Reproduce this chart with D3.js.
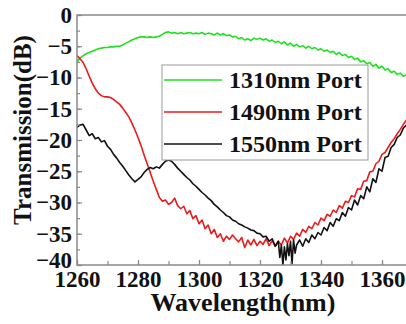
<!DOCTYPE html>
<html>
<head>
<meta charset="utf-8">
<script src="https://cdn.jsdelivr.net/npm/d3@7"></script>
<style>
  body { margin: 0; background: #fff; }
</style>
</head>
<body>
<div id="chart"></div>
<script>
// tick labels
var xTicks = [1260, 1280, 1300, 1320, 1340, 1360];
var yTicks = [0, -5, -10, -15, -20, -25, -30, -35, -40];

// legend names
var seriesNames = ["1310nm Port", "1490nm Port", "1550nm Port"];
var seriesColors = ["#1fe01f", "#e81c1c", "#111111"];

// 1310nm port [wavelength, dB]
var port1310 = [
  [1260,-7.5],[1261,-6.9],[1262,-6.5],[1263,-6.2],[1264,-6.0],[1265,-5.8],[1266,-5.6],[1267,-5.4],
  [1268,-5.3],[1269,-5.2],[1270,-5.2],[1271,-5.1],[1272,-5.1],[1273,-5.0],[1274,-5.0],[1275,-4.8],
  [1276,-4.5],[1277,-4.3],[1278,-4.0],[1279,-3.8],[1280,-3.6],[1281,-3.5],[1282,-3.5],[1283,-3.6],
  [1284,-3.5],[1285,-3.6],[1286,-3.5],[1287,-3.4],[1288,-3.1],[1289,-2.8],[1290,-2.7],[1291,-2.9],
  [1292,-2.8],[1293,-3.0],[1294,-2.8],[1295,-3.0],[1296,-2.9],[1297,-2.8],[1298,-3.0],[1299,-2.9],
  [1300,-3.0],[1301,-2.8],[1302,-3.1],[1303,-2.9],[1304,-3.0],[1305,-3.2],[1306,-2.9],[1307,-3.2],
  [1308,-3.0],[1309,-3.3],[1310,-3.2],[1311,-3.5],[1312,-3.4],[1313,-3.8],[1314,-3.6],[1315,-4.0],
  [1316,-3.8],[1317,-4.1],[1318,-3.7],[1319,-3.9],[1320,-3.7],[1321,-4.0],[1322,-3.8],[1323,-4.2],
  [1324,-4.0],[1325,-4.4],[1326,-4.2],[1327,-4.6],[1328,-4.3],[1329,-4.8],[1330,-4.5],[1331,-5.0],
  [1332,-4.7],[1333,-5.1],[1334,-4.9],[1335,-5.3],[1336,-5.0],[1337,-5.4],[1338,-5.2],[1339,-5.6],
  [1340,-5.4],[1341,-5.8],[1342,-5.6],[1343,-6.0],[1344,-5.8],[1345,-6.3],[1346,-6.0],[1347,-6.5],
  [1348,-6.3],[1349,-6.8],[1350,-6.6],[1351,-7.1],[1352,-6.9],[1353,-7.5],[1354,-7.3],[1355,-7.8],
  [1356,-7.6],[1357,-8.2],[1358,-7.9],[1359,-8.5],[1360,-8.2],[1361,-8.8],[1362,-8.6],[1363,-9.2],
  [1364,-9.0],[1365,-9.5],[1366,-9.3],[1367,-9.8],[1368,-9.6],[1369,-10.0],[1370,-9.9]
];

// 1490nm port
var port1490 = [
  [1260,-6.5],[1261,-7.0],[1262,-7.6],[1263,-8.6],[1264,-9.8],[1265,-10.9],[1266,-11.8],[1267,-12.5],
  [1268,-12.9],[1269,-13.1],[1270,-13.1],[1271,-13.2],[1272,-13.5],[1273,-13.9],[1274,-14.3],[1275,-14.9],
  [1276,-15.6],[1277,-16.3],[1278,-17.3],[1279,-18.4],[1280,-19.6],[1281,-20.9],[1282,-22.4],[1283,-23.8],
  [1284,-25.2],[1285,-26.6],[1286,-27.9],[1287,-29.2],[1288,-29.8],[1289,-29.6],[1290,-30.3],[1291,-30.0],
  [1292,-29.3],[1293,-30.5],[1294,-31.0],[1295,-30.6],[1296,-31.8],[1297,-31.3],[1298,-32.6],[1299,-32.1],
  [1300,-33.4],[1301,-32.8],[1302,-34.2],[1303,-33.6],[1304,-35.0],[1305,-34.3],[1306,-35.6],[1307,-35.0],
  [1308,-36.2],[1309,-35.4],[1310,-35.9],[1311,-35.2],[1312,-35.8],[1313,-36.3],[1314,-35.6],[1315,-37.2],
  [1316,-36.0],[1317,-36.8],[1318,-35.9],[1319,-36.9],[1320,-36.2],[1321,-36.7],[1322,-35.8],[1323,-36.9],
  [1324,-36.1],[1325,-37.0],[1326,-36.2],[1327,-36.8],[1328,-35.7],[1329,-36.5],[1330,-35.4],[1331,-35.9],
  [1332,-34.9],[1333,-35.4],[1334,-34.3],[1335,-34.8],[1336,-33.8],[1337,-34.2],[1338,-33.2],[1339,-33.6],
  [1340,-32.5],[1341,-32.9],[1342,-31.9],[1343,-32.2],[1344,-31.2],[1345,-31.6],[1346,-30.5],[1347,-30.9],
  [1348,-29.8],[1349,-30.0],[1350,-28.9],[1351,-29.1],[1352,-27.8],[1353,-27.9],[1354,-26.6],[1355,-26.5],
  [1356,-25.1],[1357,-25.0],[1358,-23.8],[1359,-23.4],[1360,-22.3],[1361,-22.0],[1362,-21.2],[1363,-20.4],
  [1364,-19.8],[1365,-19.0],[1366,-18.3],[1367,-17.5],[1368,-16.8],[1369,-16.2],[1370,-15.5]
];

// 1550nm port
var port1550 = [
  [1260,-18.0],[1261,-17.6],[1262,-17.5],[1263,-18.4],[1264,-19.3],[1265,-19.0],[1266,-19.8],[1267,-19.6],
  [1268,-20.3],[1269,-20.1],[1270,-21.0],[1271,-21.5],[1272,-22.3],[1273,-22.9],[1274,-23.6],[1275,-24.2],
  [1276,-24.9],[1277,-25.6],[1278,-26.2],[1279,-26.7],[1280,-26.3],[1281,-25.9],[1282,-25.2],[1283,-24.7],
  [1284,-24.4],[1285,-24.6],[1286,-24.3],[1287,-24.5],[1288,-23.9],[1289,-23.4],[1290,-23.2],[1291,-23.4],
  [1292,-23.9],[1293,-24.5],[1294,-25.0],[1295,-25.5],[1296,-26.0],[1297,-26.4],[1298,-27.0],[1299,-27.4],
  [1300,-27.9],[1301,-28.4],[1302,-28.8],[1303,-29.3],[1304,-29.7],[1305,-30.3],[1306,-30.7],[1307,-31.2],
  [1308,-31.6],[1309,-32.1],[1310,-32.3],[1311,-32.8],[1312,-33.0],[1313,-33.4],[1314,-33.6],[1315,-33.9],
  [1316,-34.1],[1317,-34.4],[1318,-34.5],[1319,-34.9],[1320,-35.0],[1321,-35.5],[1322,-35.4],[1323,-36.2],
  [1324,-35.8],[1325,-37.0],[1326,-36.2],[1326.5,-38.8],[1327,-36.8],[1327.5,-40.0],[1328,-37.1],[1328.5,-39.2],
  [1329,-36.6],[1329.5,-38.5],[1330,-36.2],[1330.5,-39.8],[1331,-36.0],[1331.5,-38.1],[1332,-36.8],[1333,-36.0],
  [1334,-37.0],[1335,-35.8],[1336,-36.4],[1337,-35.2],[1338,-35.8],[1339,-34.8],[1340,-35.2],[1341,-34.0],
  [1342,-34.5],[1343,-33.2],[1344,-33.8],[1345,-32.6],[1346,-32.9],[1347,-31.6],[1348,-32.2],[1349,-30.8],
  [1350,-31.2],[1351,-29.6],[1352,-30.4],[1353,-28.9],[1354,-29.4],[1355,-27.5],[1356,-28.3],[1357,-26.2],
  [1358,-26.8],[1359,-24.6],[1360,-25.0],[1361,-22.8],[1362,-22.6],[1363,-21.2],[1364,-20.7],[1365,-19.6],
  [1366,-19.2],[1367,-18.1],[1368,-17.6],[1369,-16.6],[1370,-16.0]
];

var series = [port1310, port1490, port1550];

var FONT = "'Liberation Serif', 'Times New Roman', serif";
var W = 406, H = 324;
var plotL = 77, plotT = 15, plotB = 265, plotR = 412.5;

var svg = d3.select("#chart").append("svg")
  .attr("width", W)
  .attr("height", H);

var x = d3.scaleLinear().domain([1260, 1370]).range([plotL, plotR]);
var y = d3.scaleLinear().domain([-40, 0]).range([plotB, plotT]);

svg.append("clipPath").attr("id", "clip")
  .append("rect")
    .attr("x", plotL).attr("y", plotT)
    .attr("width", plotR - plotL).attr("height", plotB - plotT);

// curves
var line = d3.line()
  .x(function (d) { return x(d[0]); })
  .y(function (d) { return y(d[1]); });

var curves = svg.append("g").attr("clip-path", "url(#clip)");
series.forEach(function (s, i) {
  curves.append("path")
    .datum(s)
    .attr("fill", "none")
    .attr("stroke", seriesColors[i])
    .attr("stroke-width", 1.6)
    .attr("stroke-linejoin", "round")
    .attr("d", line);
});

// frame
svg.append("rect")
  .attr("x", plotL).attr("y", plotT)
  .attr("width", plotR - plotL).attr("height", plotB - plotT)
  .attr("fill", "none")
  .attr("stroke", "#8a8a8a")
  .attr("stroke-width", 1.5);

// axes, ticks pointing inward
var xMinor = d3.range(1260, 1371, 10);
var yMinor = d3.range(-40, 0.1, 2.5);

var xAxis = svg.append("g").attr("transform", "translate(0," + plotB + ")");
xAxis.call(d3.axisBottom(x).tickValues(xMinor).tickSize(-4).tickFormat(""));
xAxis.append("g")
  .call(d3.axisBottom(x).tickValues(xTicks).tickSize(-5).tickPadding(6).tickFormat(d3.format("d")));
xAxis.selectAll(".domain").remove();

var yAxis = svg.append("g").attr("transform", "translate(" + plotL + ",0)");
yAxis.call(d3.axisLeft(y).tickValues(yMinor).tickSize(-3).tickFormat(""));
yAxis.append("g")
  .call(d3.axisLeft(y).tickValues(yTicks).tickSize(-5).tickPadding(10).tickFormat(d3.format("d")));
yAxis.selectAll(".domain").remove();

svg.selectAll(".tick line").attr("stroke", "#8a8a8a").attr("stroke-width", 1.2);
svg.selectAll(".tick text")
  .style("font-family", FONT)
  .style("font-weight", "bold")
  .style("font-size", "23px")
  .attr("fill", "#111");
yAxis.selectAll(".tick text").attr("x", -5);
// the bottom label sits a little higher, as in the original
yAxis.selectAll(".tick text").filter(function (d) { return d === -40; })
  .attr("dy", "0.1em");

// axis titles
svg.append("text")
  .attr("x", 243).attr("y", 311)
  .attr("text-anchor", "middle")
  .style("font-family", FONT).style("font-weight", "bold")
  .style("font-size", "26px")
  .attr("fill", "#111")
  .text("Wavelength(nm)");

svg.append("text")
  .attr("transform", "translate(31,130) rotate(-90)")
  .attr("text-anchor", "middle")
  .style("font-family", FONT).style("font-weight", "bold")
  .style("font-size", "25px")
  .attr("fill", "#111")
  .text("Transmission(dB)");

// legend
var lg = svg.append("g");
lg.append("rect")
  .attr("x", 162).attr("y", 65)
  .attr("width", 206).attr("height", 95)
  .attr("fill", "#fff")
  .attr("stroke", "#9a9a9a")
  .attr("stroke-width", 1);

seriesNames.forEach(function (name, i) {
  var ry = 80 + i * 32;
  lg.append("line")
    .attr("x1", 164).attr("x2", 222)
    .attr("y1", ry).attr("y2", ry)
    .attr("stroke", seriesColors[i])
    .attr("stroke-width", 1.6);
  lg.append("text")
    .attr("x", 229).attr("y", ry + 8)
    .style("font-family", FONT).style("font-weight", "bold")
    .style("font-size", "24px")
    .attr("fill", "#111")
    .text(name);
});
</script>
</body>
</html>
